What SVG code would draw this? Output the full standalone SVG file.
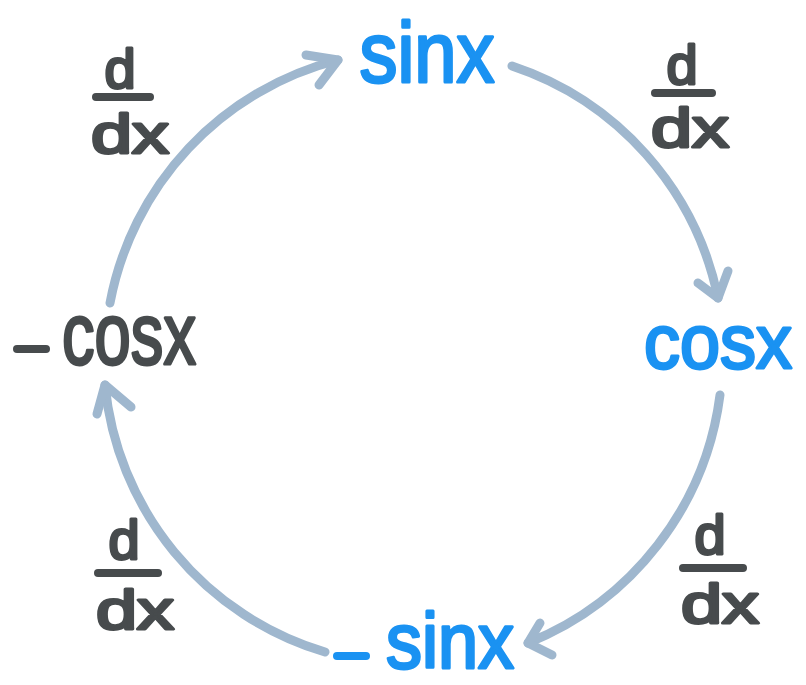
<svg xmlns="http://www.w3.org/2000/svg" width="806" height="685" viewBox="0 0 806 685">
<style>
.arc{fill:none;stroke:#9fb7ce;stroke-width:9;stroke-linecap:round;stroke-linejoin:round}
.blue{font-family:"Liberation Sans","DejaVu Sans",sans-serif;fill:#1a92f2;stroke:#1a92f2;stroke-width:3;stroke-linejoin:round}
.dark{font-family:"Liberation Sans","DejaVu Sans",sans-serif;fill:#474b4d;stroke:#474b4d;stroke-width:3;stroke-linejoin:round}
.frac{font-size:56px}
.bar{stroke:#474b4d;stroke-width:8;stroke-linecap:round}
.blbar{stroke:#1a92f2;stroke-width:8;stroke-linecap:round}
.dkbar{stroke:#474b4d;stroke-width:8;stroke-linecap:round}
</style>
<rect width="806" height="685" fill="#ffffff"/>
<g id="connectors">
  <path class="arc" d="M110,303 A310,310 0 0 1 338,60"/>
  <polyline class="arc" points="306,55 338,60 319,85"/>
  <path class="arc" d="M512,66 A310,310 0 0 1 718,298"/>
  <polyline class="arc" points="698,283 718,298 728,271"/>
  <path class="arc" d="M720,395 A310,310 0 0 1 528,643"/>
  <polyline class="arc" points="540,623 528,643 552,655"/>
  <path class="arc" d="M325,652 A310,310 0 0 1 105,385"/>
  <polyline class="arc" points="97,414 105,385 131,407"/>
</g>
<g id="node-sinx">
  <text class="blue" x="427" y="82" font-size="86" text-anchor="middle" textLength="135" lengthAdjust="spacingAndGlyphs">sinx</text>
</g>
<g id="node-cosx">
  <text class="blue" x="718" y="368" font-size="76" text-anchor="middle" textLength="148" lengthAdjust="spacingAndGlyphs">cosx</text>
</g>
<g id="node-neg-sinx">
  <line class="blbar" x1="337" y1="656" x2="366" y2="656"/>
  <text class="blue" x="450" y="668" font-size="78" text-anchor="middle" textLength="128" lengthAdjust="spacingAndGlyphs">sinx</text>
</g>
<g id="node-neg-cosx">
  <line class="dkbar" x1="17" y1="349" x2="46" y2="349"/>
  <text class="dark" x="129" y="364" font-size="88" text-anchor="middle" textLength="134" lengthAdjust="spacingAndGlyphs">cosx</text>
</g>
<g id="label-tl">
  <text class="dark frac" x="120" y="88" text-anchor="middle">d</text>
  <line class="bar" x1="96" y1="97" x2="150" y2="97"/>
  <text class="dark frac" x="130" y="153" text-anchor="middle" textLength="78" lengthAdjust="spacingAndGlyphs">dx</text>
</g>
<g id="label-tr">
  <text class="dark frac" x="682" y="84" text-anchor="middle">d</text>
  <line class="bar" x1="655" y1="93" x2="712" y2="93"/>
  <text class="dark frac" x="690" y="147" text-anchor="middle" textLength="78" lengthAdjust="spacingAndGlyphs">dx</text>
</g>
<g id="label-br">
  <text class="dark frac" x="710" y="554" text-anchor="middle">d</text>
  <line class="bar" x1="683" y1="568" x2="743" y2="568"/>
  <text class="dark frac" x="720" y="623" text-anchor="middle" textLength="78" lengthAdjust="spacingAndGlyphs">dx</text>
</g>
<g id="label-bl">
  <text class="dark frac" x="124" y="559" text-anchor="middle">d</text>
  <line class="bar" x1="98" y1="573" x2="158" y2="573"/>
  <text class="dark frac" x="135" y="629" text-anchor="middle" textLength="78" lengthAdjust="spacingAndGlyphs">dx</text>
</g>
</svg>
